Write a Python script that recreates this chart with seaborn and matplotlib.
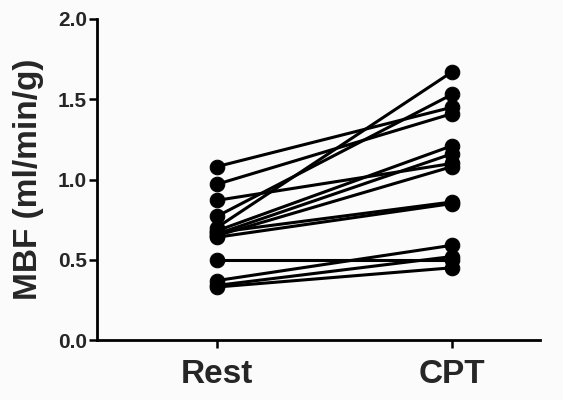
import pandas as pd
import matplotlib
matplotlib.use('Agg')
import matplotlib.pyplot as plt
import seaborn as sns

# valores (pares Rest -> CPT)
conditions = ['Rest', 'CPT']
rest = [1.08, 0.97, 0.87, 0.77, 0.70, 0.68, 0.66, 0.65, 0.67, 0.64, 0.50, 0.37, 0.34, 0.33]
cpt = [1.45, 1.41, 1.10, 1.53, 1.67, 1.21, 1.16, 1.08, 0.86, 0.85, 0.50, 0.59, 0.52, 0.45]
subjects = list(range(1, len(rest) + 1))

df = pd.DataFrame({
    'subject': subjects * 2,
    'cond': [conditions[0]] * len(rest) + [conditions[1]] * len(cpt),
    'mbf': rest + cpt,
})

sns.set_style('ticks')
plt.rcParams['font.family'] = ['Liberation Sans', 'DejaVu Sans']

fig = plt.figure(figsize=(5.63, 4.0), dpi=100, facecolor='#fbfbfb')
ax = fig.add_axes([0.172, 0.15, 0.787, 0.8025])
ax.set_facecolor('#fbfbfb')

sns.lineplot(data=df, x='cond', y='mbf', units='subject', estimator=None,
             color='black', linewidth=2.2, marker='o', markersize=10.5,
             markeredgecolor='black', ax=ax)

ax.set_xlim(-0.51, 1.374)
ax.set_ylim(0, 2.0)
ax.set_yticks([0, 0.5, 1.0, 1.5, 2.0])
ax.set_yticklabels(['0.0', '0.5', '1.0', '1.5', '2.0'])
ax.set_xlabel('')
ax.set_ylabel('MBF (ml/min/g)', fontsize=24, fontweight='bold', labelpad=10)

for lab in ax.get_yticklabels():
    lab.set_fontsize(15)
    lab.set_fontweight('bold')
for lab in ax.get_xticklabels():
    lab.set_fontsize(24)
    lab.set_fontweight('bold')

ax.tick_params(axis='both', direction='out', length=6, width=1.8, color='black')
ax.tick_params(axis='y', pad=1)
ax.tick_params(axis='x', pad=8)
sns.despine(ax=ax)
for s in ['left', 'bottom']:
    ax.spines[s].set_linewidth(2)
    ax.spines[s].set_color('black')

fig.savefig('out.png', dpi=100, facecolor=fig.get_facecolor())
